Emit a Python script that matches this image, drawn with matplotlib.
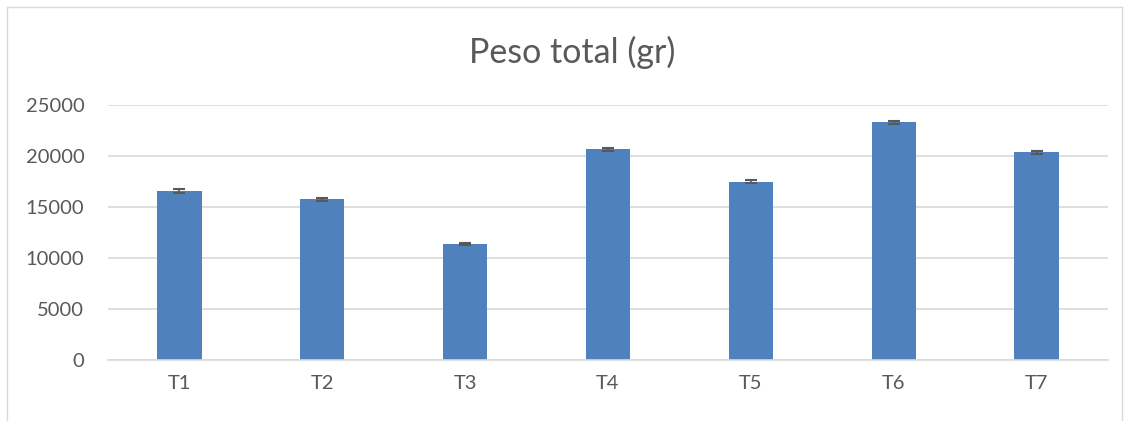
import numpy as np
import matplotlib.pyplot as plt
from matplotlib.lines import Line2D

# datos
tratamientos = ['T1', 'T2', 'T3', 'T4', 'T5', 'T6', 'T7']
peso = [16570, 15780, 11340, 20650, 17480, 23300, 20350]
error = [180, 150, 100, 180, 150, 170, 160]

plt.rcParams['font.family'] = ['Lato', 'DejaVu Sans']
gris = '#595959'

fig = plt.figure(figsize=(11.28, 4.21), dpi=100)
ax = fig.add_axes([108/1128, 61/421, 1000/1128, 255/421])

x = np.arange(len(tratamientos))
ax.bar(x, peso, width=0.31, color='#4F81BD', zorder=2)
ax.errorbar(x, peso, yerr=error, fmt='none', ecolor=gris, elinewidth=1.2,
            capsize=4, capthick=1.5, zorder=3)

ax.set_xlim(-0.5, len(tratamientos) - 0.5)
ax.set_ylim(0, 25000)
ax.set_yticks(np.arange(0, 25001, 5000))
ax.set_xticks(x)
ax.set_xticklabels(tratamientos)
ax.tick_params(axis='both', length=0, labelsize=14.5, colors=gris)
ax.tick_params(axis='x', pad=11)
ax.tick_params(axis='y', pad=17)
ax.grid(axis='y', color='#D9D9D9', linewidth=1.2, zorder=0)
for s in ['top', 'right', 'left']:
    ax.spines[s].set_visible(False)
ax.spines['bottom'].set_color('#D9D9D9')
ax.spines['bottom'].set_linewidth(1.2)

fig.text(572/1128, 1 - 52/421, 'Peso total (gr)', ha='center', va='center',
         fontsize=24.5, color=gris)

# borde del grafico
bx0, bx1, by0 = 7/1128, 1122/1128, 1 - 7/421
fig.add_artist(Line2D([bx0, bx1], [by0, by0], color='#D9D9D9', lw=1, transform=fig.transFigure))
fig.add_artist(Line2D([bx0, bx0], [0, by0], color='#D9D9D9', lw=1, transform=fig.transFigure))
fig.add_artist(Line2D([bx1, bx1], [0, by0], color='#D9D9D9', lw=1, transform=fig.transFigure))

fig.savefig('out.png', dpi=100)
